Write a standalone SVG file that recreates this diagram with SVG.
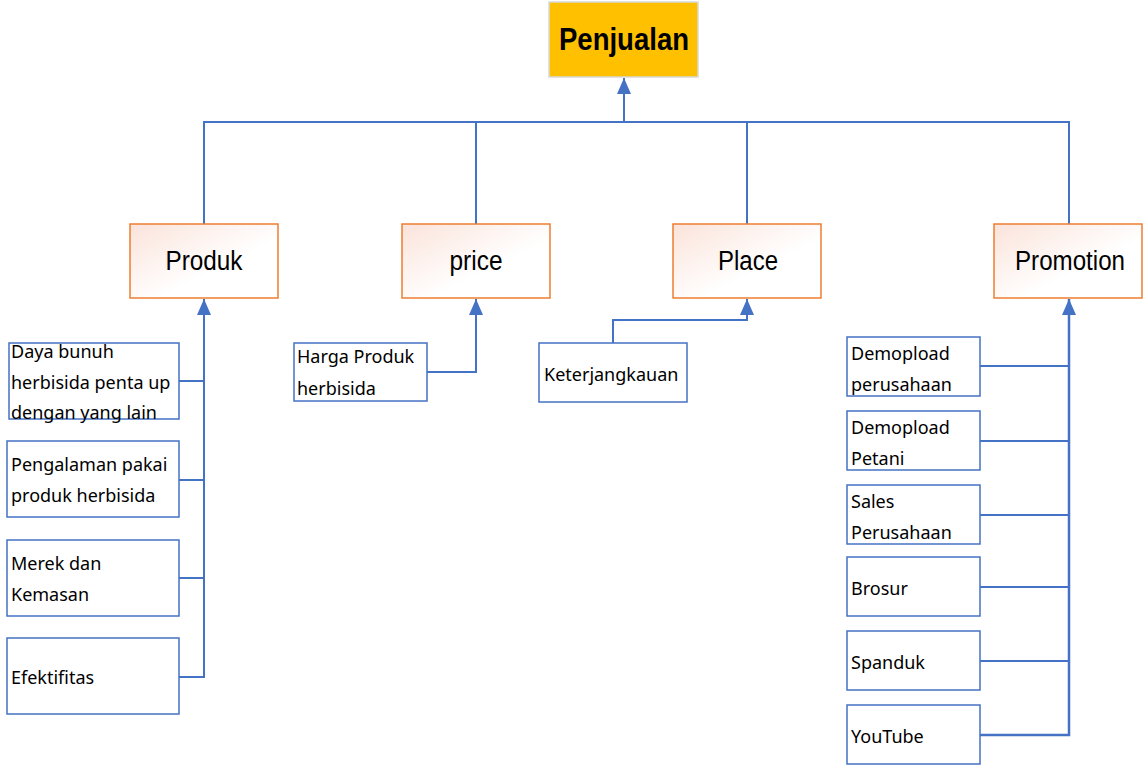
<svg xmlns="http://www.w3.org/2000/svg" width="1144" height="767" viewBox="0 0 1144 767">
<style>
.top{fill:#FFC000;stroke:#D9D9D9;stroke-width:1.5}
.cat{fill:url(#pg);stroke:#ED7D31;stroke-width:1.5}
.leaf{fill:#fff;stroke:#4472C4;stroke-width:1.5}
.c{fill:none;stroke:#4472C4;stroke-width:2}
.tt{font-family:"Liberation Sans",Arial,sans-serif;font-weight:bold;font-size:31px;fill:#000;text-anchor:middle}
.ct{font-family:"Liberation Sans",Arial,sans-serif;font-size:27px;fill:#000;text-anchor:middle}
.lt{font-family:"Noto Sans","Open Sans",sans-serif;font-size:18px;fill:#000}
</style>
<defs>
<linearGradient id="pg" x1="0" y1="0" x2="1" y2="1">
<stop offset="0" stop-color="#FBE3DA"/>
<stop offset="0.6" stop-color="#FFFFFF"/>
</linearGradient>
<marker id="ah" markerUnits="userSpaceOnUse" markerWidth="16" markerHeight="14" refX="16" refY="7" orient="auto" viewBox="0 0 16 14">
<path d="M0,0 L16,7 L0,14 Z" fill="#4472C4"/>
</marker>
</defs>
<g id="connectors">
<path class="c" d="M204,224 V122 H1069 V224"/>
<path class="c" d="M476,224 V122"/>
<path class="c" d="M747,224 V122"/>
<path class="c" d="M624,122 V78" marker-end="url(#ah)"/>
<path class="c" d="M179,381 H204"/>
<path class="c" d="M179,480 H204"/>
<path class="c" d="M179,578 H204"/>
<path class="c" d="M179,677 H204 V299" marker-end="url(#ah)"/>
<path class="c" d="M427,372 H476 V299" marker-end="url(#ah)"/>
<path class="c" d="M613,343 V320 H747 V299" marker-end="url(#ah)"/>
<path class="c" d="M980,366 H1069"/>
<path class="c" d="M980,441 H1069"/>
<path class="c" d="M980,515 H1069"/>
<path class="c" d="M980,587 H1069"/>
<path class="c" d="M980,661 H1069"/>
<path class="c" d="M980,735 H1069 V299" marker-end="url(#ah)" style="stroke-width:2.5"/>
</g>
<g id="penjualan"><rect class="top" x="549" y="2" width="149" height="75"/><text class="tt" x="624" y="50" textLength="130" lengthAdjust="spacingAndGlyphs">Penjualan</text></g>
<g id="produk"><rect class="cat" x="130" y="224" width="148" height="74"/><text class="ct" x="204" y="270" textLength="77" lengthAdjust="spacingAndGlyphs">Produk</text></g>
<g id="price"><rect class="cat" x="402" y="224" width="148" height="74"/><text class="ct" x="476" y="270" textLength="53" lengthAdjust="spacingAndGlyphs">price</text></g>
<g id="place"><rect class="cat" x="673" y="224" width="148" height="74"/><text class="ct" x="748" y="270" textLength="60" lengthAdjust="spacingAndGlyphs">Place</text></g>
<g id="promotion"><rect class="cat" x="994" y="224" width="148" height="74"/><text class="ct" x="1070" y="270" textLength="110" lengthAdjust="spacingAndGlyphs">Promotion</text></g>
<g id="daya"><rect class="leaf" x="9" y="343" width="170" height="76"/><text class="lt" x="11" y="358">Daya bunuh</text><text class="lt" x="11" y="389">herbisida penta up</text><text class="lt" x="11" y="419">dengan yang lain</text></g>
<g id="pengalaman"><rect class="leaf" x="7" y="441" width="172" height="76"/><text class="lt" x="11" y="471">Pengalaman pakai</text><text class="lt" x="11" y="502">produk herbisida</text></g>
<g id="merek"><rect class="leaf" x="7" y="540" width="172" height="76"/><text class="lt" x="11" y="570">Merek dan</text><text class="lt" x="11" y="601">Kemasan</text></g>
<g id="efektifitas"><rect class="leaf" x="7" y="638" width="172" height="76"/><text class="lt" x="11" y="684">Efektifitas</text></g>
<g id="harga"><rect class="leaf" x="294" y="343" width="133" height="58"/><text class="lt" x="297" y="363">Harga Produk</text><text class="lt" x="297" y="395">herbisida</text></g>
<g id="keterjangkauan"><rect class="leaf" x="539" y="343" width="148" height="59"/><text class="lt" x="544" y="381">Keterjangkauan</text></g>
<g id="demo-perusahaan"><rect class="leaf" x="847" y="337" width="133" height="59"/><text class="lt" x="851" y="360">Demopload</text><text class="lt" x="851" y="391">perusahaan</text></g>
<g id="demo-petani"><rect class="leaf" x="847" y="411" width="133" height="59"/><text class="lt" x="851" y="434">Demopload</text><text class="lt" x="851" y="465">Petani</text></g>
<g id="sales"><rect class="leaf" x="847" y="485" width="133" height="59"/><text class="lt" x="851" y="508">Sales</text><text class="lt" x="851" y="539">Perusahaan</text></g>
<g id="brosur"><rect class="leaf" x="847" y="557" width="133" height="59"/><text class="lt" x="851" y="595">Brosur</text></g>
<g id="spanduk"><rect class="leaf" x="847" y="631" width="133" height="59"/><text class="lt" x="851" y="669">Spanduk</text></g>
<g id="youtube"><rect class="leaf" x="847" y="705" width="133" height="59"/><text class="lt" x="851" y="743">YouTube</text></g>
</svg>
